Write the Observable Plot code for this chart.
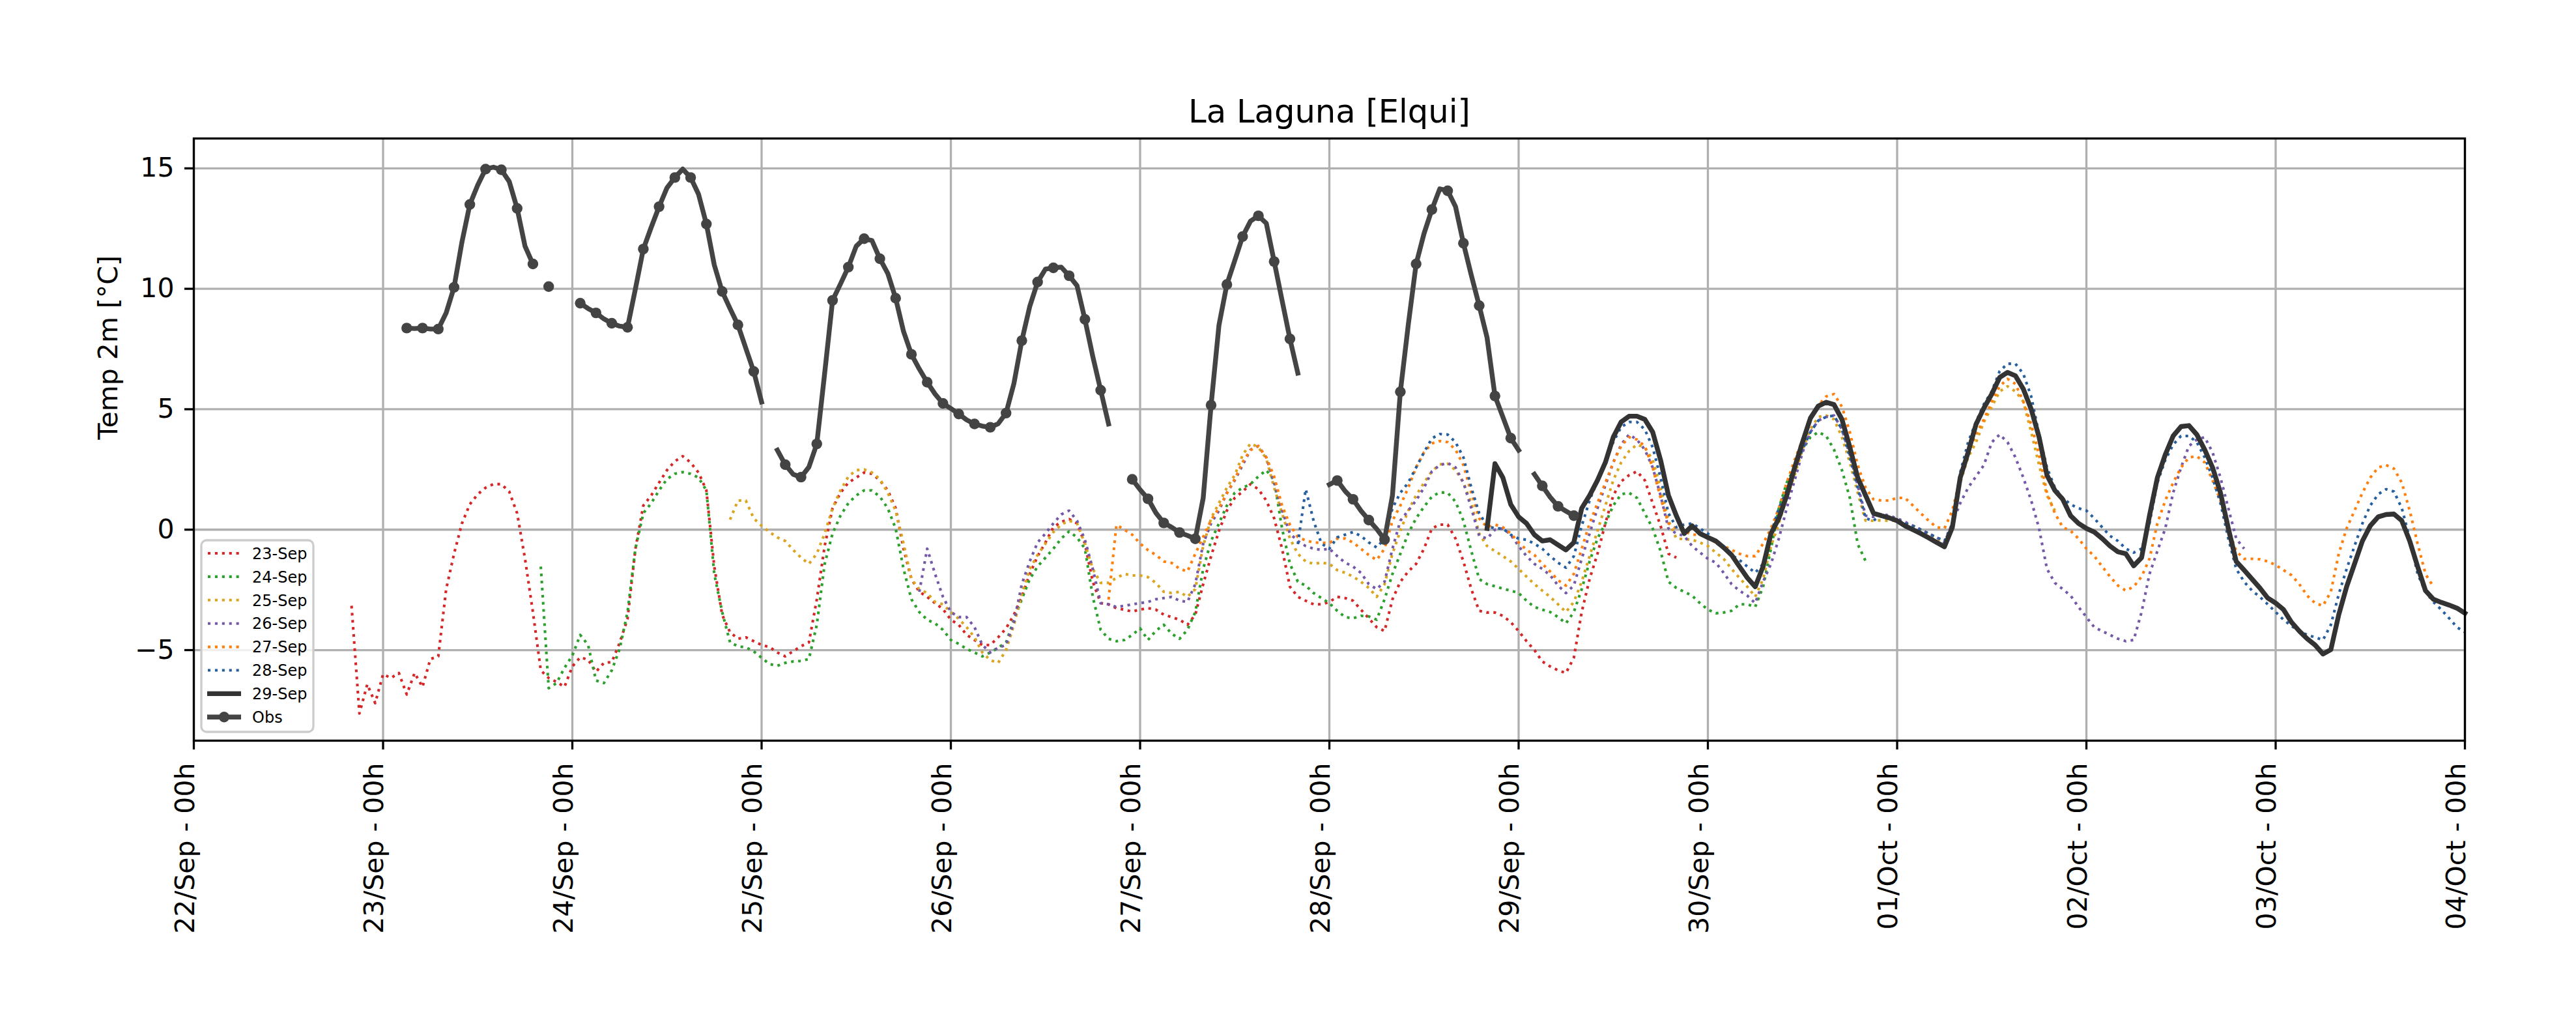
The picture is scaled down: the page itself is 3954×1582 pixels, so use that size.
<!DOCTYPE html>
<html>
<head>
<meta charset="utf-8">
<script src="https://cdn.jsdelivr.net/npm/d3@7"></script>
<script src="https://cdn.jsdelivr.net/npm/@observablehq/plot@0.6"></script>
<style>
  html, body { margin: 0; padding: 0; background: #ffffff; overflow: hidden; }
  #chart { width: 3954px; height: 1582px; }
</style>
</head>
<body>
<div id="chart"></div>
<script>
// ---------------- data ----------------
const chartTitle = "La Laguna [Elqui]";
const yLabel = "Temp 2m [°C]";

const seriesNames = ["23-Sep", "24-Sep", "25-Sep", "26-Sep", "27-Sep", "28-Sep", "29-Sep"];
const seriesColors = ["#d62728", "#2ca02c", "#daa520", "#7459a8", "#ff7f0e", "#255f9f", "#333333"];
// first forecast hour of each run, counted from 22/Sep 00h
const seriesStartHour = [20, 44, 68, 92, 116, 140, 164];

const xTickLabels = ["22/Sep - 00h", "23/Sep - 00h", "24/Sep - 00h", "25/Sep - 00h", "26/Sep - 00h",
  "27/Sep - 00h", "28/Sep - 00h", "29/Sep - 00h", "30/Sep - 00h", "01/Oct - 00h",
  "02/Oct - 00h", "03/Oct - 00h", "04/Oct - 00h"];
const yTicks = [-5, 0, 5, 10, 15];
const yTickLabels = ["\u22125", "0", "5", "10", "15"];

// hourly forecast values (°C)
const fc23 = [-3.16, -7.63, -6.42, -7.2, -6.0, -6.16, -5.95, -6.84, -5.95, -6.53, -5.37, -5.26, -2.47, -1.0, 0.26, 1.05, 1.47, 1.74, 1.89, 1.89, 1.58, 0.68, -1.21, -3.42, -5.84, -6.16, -6.32, -6.53, -5.68,
  -5.3, -5.4, -5.9, -5.53, -5.5, -4.7, -3.7, -0.8, 1.0, 1.42, 1.95, 2.47, 2.84, 3.05, 2.79, 2.37, 1.63, -1.53, -3.53, -4.26, -4.53, -4.47, -4.63, -4.79, -4.87, -5.1, -5.26, -5.05, -4.84, -4.68, -2.9, -0.68, 0.89, 1.53, 1.95, 2.16, 2.37, 2.32, 2.05, 1.63, 0.89, -0.79, -2.05, -2.58, -2.79, -3.05, -3.3, -3.74,
  -3.95, -4.37, -4.58, -4.79, -4.79, -4.47, -4.1, -3.53, -2.79, -1.84, -1.1, -0.53, 0.1, 0.32, 0.44, 0.26, -0.58, -2.16, -3.05, -3.1, -3.26, -3.32, -3.4, -3.32, -3.26, -3.32, -3.53, -3.63, -3.74, -3.95, -3.53, -2.26, -1.1, -0.05, 0.79, 1.32, 1.58, 1.89, 1.68, 1.21, 0.47, -0.79, -2.37, -2.79, -2.95, -3.1, -3.1, -3.0,
  -2.79, -2.84, -2.95, -3.32, -3.68, -4.05, -4.21, -2.89, -2.16, -1.74, -1.42, -0.79, 0.05, 0.21, 0.21, -0.37, -1.32, -2.47, -3.37, -3.44, -3.44, -3.58, -3.84, -4.21, -4.63, -5.0, -5.47, -5.68, -5.84, -5.95, -5.32, -3.42, -2.05, -1.0, 0.26, 1.42, 2.0, 2.26, 2.42, 2.05, 1.1, 0.16, -1.0, -1.16];

const fc24 = [-1.53, -6.58, -6.37, -5.74, -5.23,
  -4.37, -4.79, -6.26, -6.37, -5.84, -4.95, -3.42, -0.79, 0.68, 1.1, 1.63, 2.1, 2.32, 2.39, 2.32, 2.16, 1.63, -1.84, -3.42, -4.68, -4.84, -4.89, -5.05, -5.32, -5.58, -5.65, -5.53, -5.47, -5.45, -5.37, -3.95, -1.42, -0.16, 0.58, 1.1, 1.42, 1.63, 1.63, 1.37, 0.89, 0.05, -1.63, -2.89, -3.42, -3.74, -3.89, -4.16, -4.58,
  -4.74, -4.95, -5.1, -5.26, -5.1, -4.9, -4.68, -3.74, -2.89, -2.05, -1.53, -1.16, -0.79, -0.37, -0.07, -0.32, -0.79, -2.79, -4.16, -4.53, -4.63, -4.58, -4.37, -4.1, -4.58, -4.2, -3.95, -4.32, -4.53, -4.16, -3.42, -1.63, -0.47, 0.26, 1.0, 1.53, 1.74, 1.89, 2.21, 2.47, 2.05, 0.05, -1.42, -2.16, -2.32, -2.63, -2.84, -3.05,
  -3.37, -3.63, -3.68, -3.58, -3.6, -3.74, -2.89, -1.84, -1.0, -0.16, 0.47, 0.95, 1.37, 1.55, 1.53, 1.16, 0.37, -0.89, -2.05, -2.26, -2.35, -2.45, -2.53, -2.63, -2.95, -3.21, -3.32, -3.42, -3.63, -3.89, -3.42, -2.47, -1.32, -0.37, 0.26, 1.0, 1.47, 1.53, 1.32, 0.68, 0.05, -0.89, -2.16, -2.42, -2.58, -2.74, -3.05, -3.32,
  -3.47, -3.44, -3.37, -3.1, -3.1, -3.21, -2.37, -0.79, 0.89, 1.95, 2.58, 3.32, 3.84, 4.05, 3.89, 3.32, 2.47, 1.32, -0.6, -1.3];

const fc25 = [0.42, 1.21, 1.21, 0.47, 0.16, -0.1, -0.32, -0.47, -0.84, -1.16, -1.42, -1.0, -0.16, 0.89, 1.63, 2.2, 2.47, 2.5, 2.37, 2.1, 1.53, 0.79, -0.58, -2.05, -2.47, -2.63, -3.0, -3.1, -3.42,
  -3.7, -4.05, -4.47, -5.1, -5.42, -5.53, -5.0, -3.95, -2.68, -1.63, -1.05, -0.58, -0.1, 0.21, 0.37, 0.26, -0.58, -1.63, -2.21, -2.21, -2.0, -1.84, -1.9, -1.9, -1.97, -2.21, -2.58, -2.63, -2.58, -2.79, -2.47, -0.68, 0.47, 1.1, 1.74, 2.26, 3.1, 3.58, 3.42, 2.95, 1.74, 0.68, -0.37, -1.0, -1.32, -1.42, -1.37, -1.42,
  -1.68, -1.79, -1.95, -2.16, -2.42, -2.79, -2.26, -1.0, -0.05, 0.79, 1.42, 1.95, 2.42, 2.71, 2.74, 2.47, 1.95, 1.1, -0.16, -0.68, -0.89, -1.1, -1.32, -1.63, -1.95, -2.26, -2.53, -2.79, -3.1, -3.42, -3.0, -2.16, -1.1, -0.05, 1.0, 2.05, 2.79, 3.26, 3.53, 3.42, 2.89, 1.74, 0.37, -0.37, -0.39, -0.42, -0.53, -0.68,
  -0.95, -1.21, -1.63, -2.0, -2.37, -2.79, -2.05, -0.68, 0.26, 1.32, 2.26, 3.32, 4.16, 4.68, 4.74, 4.58, 3.84, 2.79, 1.53, 0.37, 0.37, 0.39, 0.37, 0.37, 0.26, 0.16, 0.0, -0.16, -0.37, -0.53, 0.26, 1.95, 3.0, 3.63, 4.47, 5.1, 5.74, 5.95, 5.74, 5.32, 4.05, 2.68, 1.42, 0.79];

const fc26 = [-2.58, -0.79, -1.84, -2.79, -3.42,
  -3.63, -3.63, -4.05, -4.79, -5.1, -4.9, -4.79, -3.84, -2.26, -1.32, -0.53, -0.16, 0.26, 0.63, 0.79, 0.37, -0.42, -1.63, -3.05, -3.1, -3.21, -3.16, -3.1, -3.05, -3.0, -2.89, -2.84, -2.79, -2.95, -3.0, -2.26, -0.58, 0.26, 0.79, 1.53, 2.05, 2.68, 3.32, 3.47, 3.0, 1.95, 0.79, -0.16, -0.47, -0.68, -0.79, -0.84, -0.79,
  -1.1, -1.37, -1.53, -1.79, -2.26, -2.47, -2.16, -0.79, 0.37, 0.79, 1.21, 1.74, 2.42, 2.68, 2.77, 2.58, 1.95, 0.89, -0.26, -0.37, 0.0, 0.05, -0.21, -0.68, -1.1, -1.42, -1.63, -1.89, -2.32, -2.63, -2.32, -1.21, -0.16, 0.89, 1.84, 2.79, 3.53, 3.95, 3.74, 3.32, 2.58, 1.42, 0.05, -0.16, -0.26, -0.68, -0.95, -1.21,
  -1.37, -1.79, -2.26, -2.53, -2.74, -3.05, -2.16, -1.42, -0.37, 0.89, 2.05, 3.21, 4.05, 4.53, 4.68, 4.74, 4.16, 3.11, 1.84, 0.58, 0.53, 0.66, 0.58, 0.47, 0.32, 0.16, 0.0, -0.16, -0.32, -0.53, 0.26, 1.1, 1.74, 2.21, 2.68, 3.63, 3.95, 3.63, 3.0, 2.16, 1.21, 0.05, -1.63, -2.21, -2.47, -2.74, -3.21, -3.63,
  -4.05, -4.21, -4.37, -4.53, -4.63, -4.58, -3.42, -1.84, -0.89, 0.05, 1.53, 2.58, 3.47, 3.74, 3.84, 3.21, 2.16, 0.89, -0.37, -0.79];

const fc27 = [-2.9, 0.2, 0.0, -0.21, -0.58, -0.85, -1.05, -1.32, -1.38, -1.62, -1.74, -1.0, -0.3, 0.4, 0.9, 1.5, 2.1, 2.8, 3.3, 3.47, 3.0, 2.2, 1.0, 0.2, -0.3, -0.45, -0.53, -0.55, -0.55,
  -0.37, -0.37, -0.53, -0.79, -1.05, -1.26, -0.79, 0.37, 1.0, 1.74, 2.58, 3.21, 3.58, 3.68, 3.63, 3.32, 2.68, 1.53, 0.47, 0.1, 0.21, 0.1, -0.16, -0.53, -0.84, -1.05, -1.42, -1.74, -2.1, -2.32, -1.84, -0.79, 0.26, 1.1, 1.95, 2.79, 3.47, 3.84, 3.74, 3.47, 2.58, 1.32, 0.26, 0.05, -0.05, -0.21, -0.21, -0.37,
  -0.53, -0.68, -0.84, -1.0, -1.1, -1.1, -0.58, 0.05, 0.89, 1.95, 2.89, 3.74, 4.58, 5.16, 5.53, 5.63, 5.1, 4.05, 2.68, 1.74, 1.26, 1.21, 1.21, 1.32, 1.32, 1.0, 0.68, 0.37, 0.1, 0.05, 0.79, 2.16, 3.21, 3.95, 4.58, 5.32, 5.95, 6.26, 6.05, 5.32, 4.37, 3.11, 1.53, 0.68, 0.1, -0.05, -0.37, -0.79,
  -1.1, -1.53, -1.95, -2.32, -2.53, -2.37, -1.95, -1.21, 0.26, 1.21, 1.95, 2.58, 3.0, 3.05, 2.79, 2.05, 1.21, 0.05, -0.89, -1.21, -1.21, -1.23, -1.32, -1.47, -1.68, -1.89, -2.26, -2.74, -3.05, -3.16, -2.58, -1.0, 0.05, 0.79, 1.53, 2.16, 2.58, 2.68, 2.53, 1.95, 0.79, -0.58, -1.84, -2.37];

const fc28 = [-0.6, 1.68, 0.37, -0.58, -0.79,
  -0.32, -0.21, -0.1, -0.26, -0.53, -0.74, -0.37, 0.89, 1.53, 1.95, 2.58, 3.21, 3.79, 3.97, 3.95, 3.63, 3.0, 1.74, 0.68, 0.16, 0.05, 0.05, -0.21, -0.37, -0.42, -0.58, -0.79, -1.1, -1.37, -1.58, -1.1, 0.16, 1.21, 2.05, 2.79, 3.63, 4.26, 4.47, 4.47, 4.16, 3.42, 2.16, 0.68, 0.1, 0.21, 0.26, 0.05, -0.16,
  -0.53, -0.79, -1.05, -1.26, -1.53, -1.79, -1.42, -0.16, 0.89, 1.63, 2.58, 3.32, 4.05, 4.53, 4.68, 4.74, 4.16, 3.0, 1.74, 0.47, 0.37, 0.63, 0.53, 0.42, 0.26, 0.16, 0.0, -0.16, -0.32, -0.47, 0.26, 2.37, 3.63, 4.47, 5.21, 5.74, 6.58, 6.89, 6.89, 6.47, 5.53, 3.95, 2.58, 1.74, 1.32, 1.05, 0.89, 0.79,
  0.47, 0.1, -0.26, -0.47, -0.79, -0.95, -0.79, 0.26, 1.95, 2.89, 3.53, 3.89, 3.89, 3.63, 3.0, 2.16, 1.1, -0.37, -1.63, -2.16, -2.53, -2.79, -3.1, -3.42, -3.74, -4.0, -4.21, -4.37, -4.47, -4.58, -3.95, -2.68, -1.63, -0.68, 0.26, 1.0, 1.47, 1.68, 1.58, 0.89, -0.37, -1.84, -2.58, -3.0, -3.32, -3.68, -4.05, -4.26];

const fc29 = [0.05, 2.74, 2.16, 1.05, 0.53, 0.26, -0.21, -0.47, -0.42, -0.63, -0.84, -0.53, 0.89, 1.42, 2.05, 2.79, 3.84, 4.47, 4.71, 4.71, 4.58, 4.05, 2.89, 1.42, 0.58, -0.16, 0.16, -0.16, -0.32,
  -0.47, -0.74, -1.05, -1.53, -2.0, -2.37, -1.53, -0.16, 0.47, 1.42, 2.58, 3.63, 4.63, 5.13, 5.29, 5.19, 4.58, 3.42, 2.16, 1.42, 0.68, 0.58, 0.49, 0.37, 0.16, 0.0, -0.16, -0.34, -0.53, -0.71, 0.1, 2.16, 3.21, 4.37, 5.05, 5.63, 6.32, 6.53, 6.39, 5.84, 5.0, 3.84, 2.26, 1.63, 1.26, 0.58, 0.26, 0.05,
  -0.1, -0.37, -0.68, -0.92, -1.0, -1.5, -1.16, 0.58, 2.16, 3.11, 3.89, 4.28, 4.32, 3.95, 3.32, 2.58, 1.53, 0.05, -1.32, -1.68, -2.05, -2.42, -2.84, -3.05, -3.32, -3.84, -4.21, -4.53, -4.79, -5.16, -4.98, -3.53, -2.37, -1.42, -0.47, 0.16, 0.53, 0.63, 0.65, 0.37, -0.47, -1.53, -2.53, -2.89, -3.02, -3.13, -3.26, -3.47];

// hourly observations from 23/Sep 03h (null = missing)
const obsStartHour = 27;
const obs = [8.37, 8.35, 8.37, 8.33, 8.33, 9.0, 10.06, 11.94, 13.5, 14.3, 14.97, 15.05, 14.94, 14.45, 13.34, 11.77, 11.03, null, 10.09, null, null, null,
  9.4, 9.18, 9.0, 8.75, 8.57, 8.45, 8.4, 10.0, 11.65, 12.55, 13.41, 14.19, 14.62, 14.97, 14.62, 13.93, 12.69, 10.99, 9.89, 9.18, 8.5, 7.53, 6.57, 5.3, null,
  3.3, 2.7, 2.3, 2.18, 2.6, 3.56, 6.5, 9.52, 10.2, 10.9, 11.77, 12.08, 12.0, 11.25, 10.64, 9.61, 8.23, 7.28, 6.67, 6.12, 5.63, 5.24, 5.03, 4.8, 4.56, 4.39, 4.3, 4.25, 4.4, 4.84, 6.07, 7.85, 9.26, 10.28, 10.82, 10.87, 10.9, 10.54, 10.13, 8.73, 7.19, 5.79, 4.39, null, null,
  2.09, 1.66, 1.28, 0.7, 0.28, 0.1, -0.12, -0.24, -0.38, 1.31, 5.17, 8.49, 10.18, 11.17, 12.17, 12.81, 13.03, 12.72, 11.13, 9.52, 7.92, 6.5, null, null, null,
  1.87, 2.04, 1.6, 1.26, 0.79, 0.4, 0.03, -0.41, 1.42, 5.72, 8.49, 11.03, 12.29, 13.29, 14.15, 14.07, 13.41, 11.89, 10.56, 9.3, 7.97, 5.55, 4.68, 3.8, 3.3, null,
  2.3, 1.82, 1.35, 0.97, 0.77, 0.58];

// ---------------- build ----------------
const W = 3954, H = 1582;
const mLeft = 297, mRight = 171, mTop = 212, mBottom = 446;
const t0 = Date.UTC(2023, 8, 22);
const toDate = h => new Date(t0 + h * 3600e3);

const forecasts = [fc23, fc24, fc25, fc26, fc27, fc28, fc29];
const fcRows = forecasts.flatMap((vals, k) =>
  vals.map((v, i) => ({series: seriesNames[k], time: toDate(seriesStartHour[k] + i), value: v})));
const obsRows = obs.map((v, i) => ({time: toDate(obsStartHour + i), value: v, marker: i % 2 === 0}));
const xTicks = xTickLabels.map((_, i) => toDate(i * 24));

const gridStyle = {stroke: "#b0b0b0", strokeOpacity: 1, strokeWidth: 3.3};
const dotted = seriesNames.slice(0, 6);

const plot = Plot.plot({
  width: W, height: H,
  marginLeft: mLeft, marginRight: mRight, marginTop: mTop, marginBottom: mBottom,
  style: {fontFamily: "'DejaVu Sans', sans-serif", fontSize: "41px", background: "#ffffff", color: "#000000", overflow: "visible"},
  x: {type: "utc", domain: [xTicks[0], xTicks[xTicks.length - 1]]},
  y: {domain: [-8.76, 16.24]},
  color: {domain: seriesNames, range: seriesColors},
  marks: [
    Plot.gridX({ticks: xTicks, ...gridStyle}),
    Plot.gridY({ticks: yTicks, ...gridStyle}),
    Plot.line(fcRows.filter(d => dotted.includes(d.series)), {
      x: "time", y: "value", z: "series", stroke: "series",
      strokeWidth: 4.1, strokeDasharray: "4.1,6.8", strokeLinecap: "butt", strokeLinejoin: "round"
    }),
    Plot.line(fcRows.filter(d => d.series === "29-Sep"), {
      x: "time", y: "value", stroke: "series", strokeWidth: 7.4, strokeLinejoin: "round", strokeLinecap: "square"
    }),
    Plot.line(obsRows, {x: "time", y: "value", stroke: "#444444", strokeWidth: 7.4, strokeLinejoin: "round", strokeLinecap: "square"}),
    Plot.dot(obsRows.filter(d => d.marker && d.value != null), {x: "time", y: "value", r: 8.2, fill: "#444444", stroke: "none"}),
    Plot.axisX({ticks: xTicks, tickSize: 14, fill: "none", stroke: "#000000", strokeWidth: 3.3, label: null}),
    Plot.text(xTicks, {
      x: d => d, text: (d, i) => xTickLabels[i], frameAnchor: "bottom", dy: 34,
      rotate: -90, textAnchor: "end", fontSize: 41, fill: "#000000"
    }),
    Plot.axisY({
      ticks: yTicks, tickFormat: d => yTickLabels[yTicks.indexOf(d)], tickSize: 14, tickPadding: 16,
      fontSize: 41, stroke: "#000000", strokeWidth: 3.3, fill: "#000000", label: null
    }),
    Plot.text([yLabel], {frameAnchor: "left", dx: -131, rotate: -90, fontSize: 41, fill: "#000000"}),
    Plot.text([chartTitle], {frameAnchor: "top", dy: -25, lineAnchor: "bottom", fontSize: 49.6, fill: "#000000"}),
    Plot.frame({stroke: "#000000", strokeWidth: 3.3, fill: "none"})
  ]
});

document.getElementById("chart").appendChild(plot);

// ---------------- legend (lower left, inside axes) ----------------
const legendNames = [...seriesNames, "Obs"];
const lg = d3.select(plot).append("g")
  .attr("text-anchor", "start")
  .style("font-family", "'DejaVu Sans', sans-serif")
  .style("font-size", "24px");
const boxX = mLeft + 12, boxY = H - mBottom - 307, boxW = 172, boxH = 294;
lg.append("rect")
  .attr("x", boxX).attr("y", boxY).attr("width", boxW).attr("height", boxH)
  .attr("rx", 8).attr("ry", 8)
  .attr("fill", "#ffffff").attr("fill-opacity", 0.8)
  .attr("stroke", "#cccccc").attr("stroke-width", 3.3);
legendNames.forEach((name, i) => {
  const cy = boxY + 20 + i * 35.9;
  const row = lg.append("g");
  if (i < 6) {
    row.append("line").attr("x1", boxX + 10).attr("x2", boxX + 61).attr("y1", cy).attr("y2", cy)
      .attr("stroke", seriesColors[i]).attr("stroke-width", 4.1).attr("stroke-dasharray", "4.1,6.8");
  } else if (i === 6) {
    row.append("line").attr("x1", boxX + 9).attr("x2", boxX + 61).attr("y1", cy).attr("y2", cy)
      .attr("stroke", seriesColors[6]).attr("stroke-width", 7.4);
  } else {
    row.append("line").attr("x1", boxX + 9).attr("x2", boxX + 61).attr("y1", cy).attr("y2", cy)
      .attr("stroke", "#444444").attr("stroke-width", 7.4);
    row.append("circle").attr("cx", boxX + 35).attr("cy", cy).attr("r", 8.2).attr("fill", "#444444");
  }
  row.append("text").attr("x", boxX + 78).attr("y", cy + 8.7)
    .attr("text-anchor", "start").attr("fill", "#000000").text(name);
});
</script>
</body>
</html>
